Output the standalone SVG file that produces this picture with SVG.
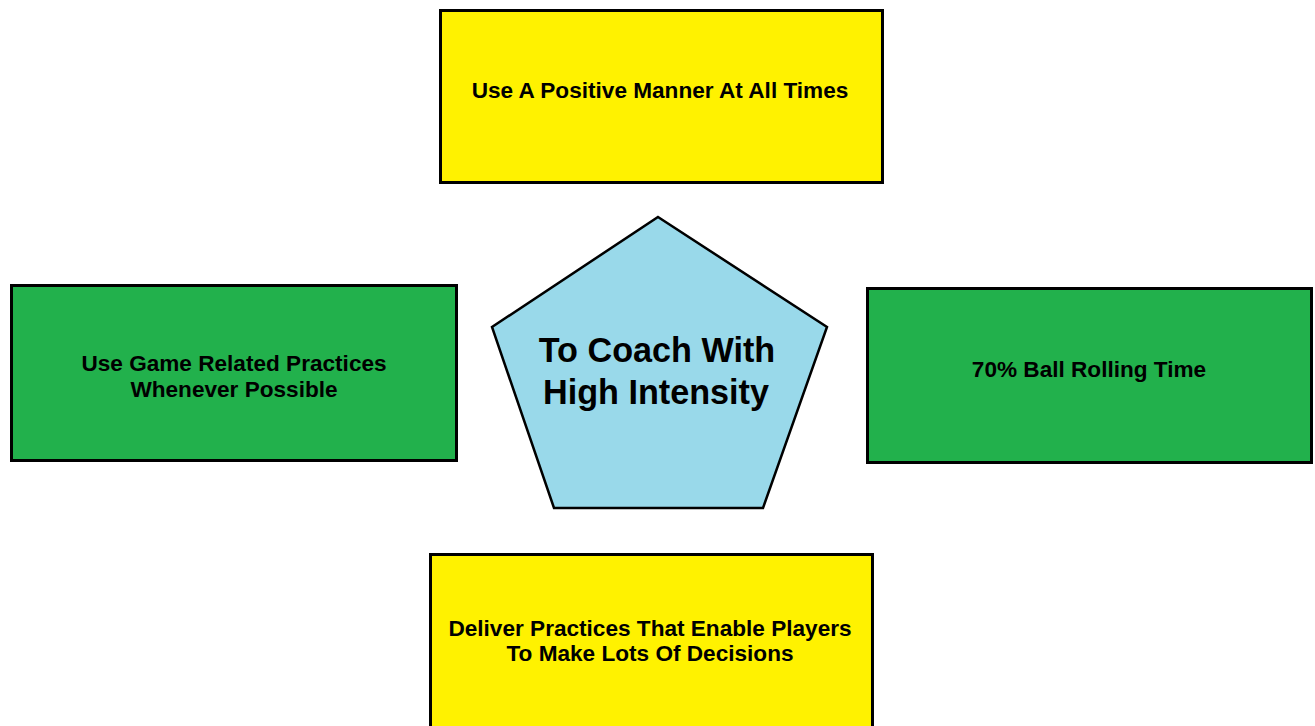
<svg xmlns="http://www.w3.org/2000/svg" width="1315" height="726" viewBox="0 0 1315 726">
<style>
.box{stroke:#000;stroke-width:3}
.yellow{fill:#FFF200}
.green{fill:#22B14C}
.pent{fill:#99D9EA;stroke:#000;stroke-width:2.5;stroke-linejoin:miter}
.t{font-family:"Liberation Sans",Arial,sans-serif;font-weight:bold;font-size:22.6px;fill:#000;text-anchor:middle}
.tb{font-family:"Liberation Sans",Arial,sans-serif;font-weight:bold;font-size:34.2px;fill:#000;text-anchor:middle}
</style>
<rect width="1315" height="726" fill="#fff"/>
<g id="connectors"></g>
<g id="top">
<rect class="box yellow" x="440.5" y="10.5" width="442" height="172"/>
<text class="t" x="660" y="98">Use A Positive Manner At All Times</text>
</g>
<g id="left">
<rect class="box green" x="11.5" y="285.5" width="445" height="175"/>
<text class="t" x="234" y="371">Use Game Related Practices</text>
<text class="t" x="234" y="397">Whenever Possible</text>
</g>
<g id="right">
<rect class="box green" x="867.5" y="288.5" width="444" height="174"/>
<text class="t" x="1089" y="377">70% Ball Rolling Time</text>
</g>
<g id="bottom">
<rect class="box yellow" x="430.5" y="554.5" width="442" height="174"/>
<text class="t" x="650" y="636">Deliver Practices That Enable Players</text>
<text class="t" x="650" y="661">To Make Lots Of Decisions</text>
</g>
<g id="center">
<polygon class="pent" points="658,217 827,327 763,508 554,508 492,327"/>
<text class="tb" x="657" y="362">To Coach With</text>
<text class="tb" x="656" y="404">High Intensity</text>
</g>
</svg>
